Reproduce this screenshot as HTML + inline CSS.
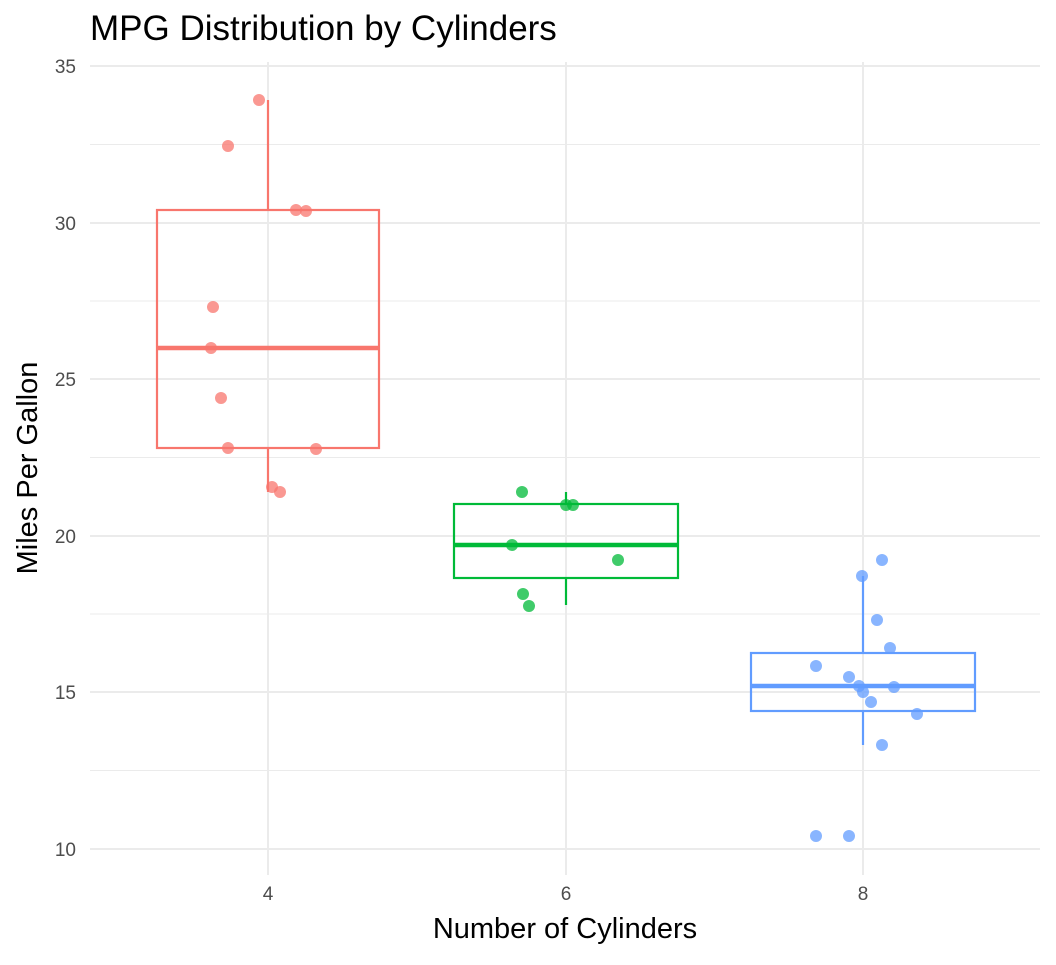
<!DOCTYPE html>
<html><head><meta charset="utf-8"><style>body{margin:0;background:#fff}</style></head><body>
<svg width="1056" height="960" xmlns="http://www.w3.org/2000/svg" font-family="Liberation Sans, sans-serif">
<rect width="1056" height="960" fill="#fff"/>
<g stroke="#ebebeb" stroke-width="1">
<line x1="90" x2="1040" y1="144.5" y2="144.5"/><line x1="90" x2="1040" y1="301" y2="301"/><line x1="90" x2="1040" y1="457.5" y2="457.5"/><line x1="90" x2="1040" y1="614" y2="614"/><line x1="90" x2="1040" y1="770.5" y2="770.5"/>
</g>
<g stroke="#ebebeb" stroke-width="2">
<line x1="90" x2="1040" y1="66" y2="66"/><line x1="90" x2="1040" y1="223" y2="223"/><line x1="90" x2="1040" y1="379" y2="379"/><line x1="90" x2="1040" y1="536" y2="536"/><line x1="90" x2="1040" y1="692" y2="692"/><line x1="90" x2="1040" y1="849" y2="849"/>
<line x1="268" x2="268" y1="62" y2="875"/><line x1="566" x2="566" y1="62" y2="875"/><line x1="863" x2="863" y1="62" y2="875"/>
</g>
<g fill="none" stroke-width="2.2">
<g stroke="#F8766D"><line x1="268" x2="268" y1="100" y2="210"/><line x1="268" x2="268" y1="448" y2="492"/><rect x="157" y="210" width="222" height="238"/><line x1="157" x2="379" y1="348" y2="348" stroke-width="4.5"/></g>
<g stroke="#00BA38"><line x1="566" x2="566" y1="492" y2="504"/><line x1="566" x2="566" y1="578" y2="605"/><rect x="454" y="504" width="224" height="74"/><line x1="454" x2="678" y1="545" y2="545" stroke-width="4.5"/></g>
<g stroke="#619CFF"><line x1="863" x2="863" y1="576" y2="653"/><line x1="863" x2="863" y1="711" y2="745"/><rect x="751" y="653" width="224" height="58"/><line x1="751" x2="975" y1="686" y2="686" stroke-width="4.5"/></g>
</g>
<g fill="#F8766D" fill-opacity="0.75"><circle cx="259" cy="100" r="6"/><circle cx="228" cy="146" r="6"/><circle cx="296" cy="210" r="6"/><circle cx="306" cy="211" r="6"/><circle cx="213" cy="307" r="6"/><circle cx="211" cy="348" r="6"/><circle cx="221" cy="398" r="6"/><circle cx="228" cy="448" r="6"/><circle cx="316" cy="449" r="6"/><circle cx="272" cy="487" r="6"/><circle cx="280" cy="492" r="6"/></g>
<g fill="#00BA38" fill-opacity="0.75"><circle cx="522" cy="492" r="6"/><circle cx="566" cy="505" r="6"/><circle cx="573" cy="505" r="6"/><circle cx="512" cy="545" r="6"/><circle cx="618" cy="560" r="6"/><circle cx="523" cy="594" r="6"/><circle cx="529" cy="606" r="6"/></g>
<g fill="#619CFF" fill-opacity="0.75"><circle cx="862" cy="576" r="6"/><circle cx="882" cy="560" r="6"/><circle cx="877" cy="620" r="6"/><circle cx="890" cy="648" r="6"/><circle cx="816" cy="666" r="6"/><circle cx="849" cy="677" r="6"/><circle cx="859" cy="686" r="6"/><circle cx="863" cy="692" r="6"/><circle cx="894" cy="687" r="6"/><circle cx="871" cy="702" r="6"/><circle cx="917" cy="714" r="6"/><circle cx="882" cy="745" r="6"/><circle cx="816" cy="836" r="6"/><circle cx="849" cy="836" r="6"/></g>
<g fill="#4d4d4d" font-size="19" text-anchor="end"><text x="76" y="73">35</text><text x="76" y="230">30</text><text x="76" y="386">25</text><text x="76" y="543">20</text><text x="76" y="699">15</text><text x="76" y="856">10</text></g>
<g fill="#4d4d4d" font-size="19" text-anchor="middle"><text x="268" y="900">4</text><text x="566" y="900">6</text><text x="863" y="900">8</text></g>
<text x="565" y="938" font-size="29" text-anchor="middle" fill="#000">Number of Cylinders</text>
<text transform="translate(37,468) rotate(-90)" font-size="29" text-anchor="middle" fill="#000">Miles Per Gallon</text>
<text x="90" y="40" font-size="35" fill="#000">MPG Distribution by Cylinders</text>
</svg>
</body></html>
